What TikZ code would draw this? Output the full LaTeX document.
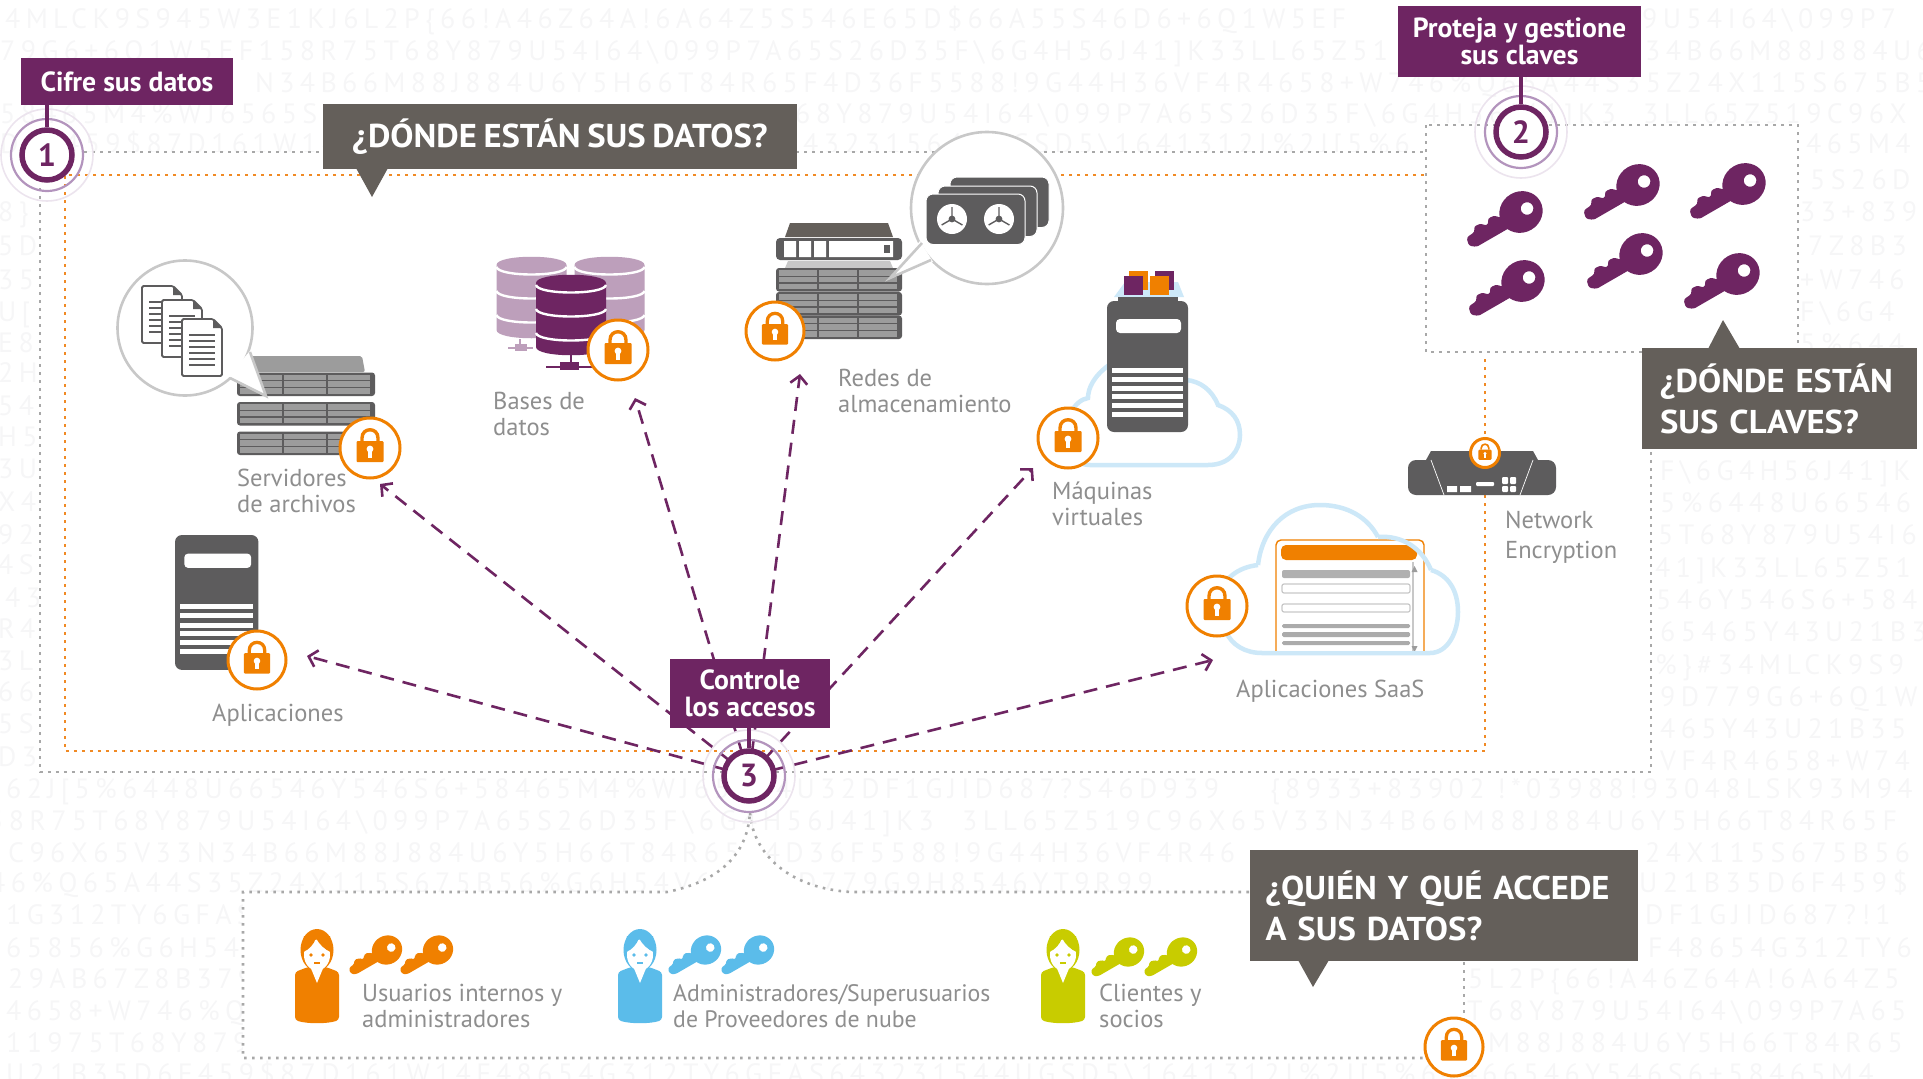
\documentclass[tikz,border=0pt]{standalone}
\usepackage{fontspec}
\setmainfont{PT Sans}
\newfontfamily\headfont[FakeStretch=1.05,WordSpace=0.75]{PT Sans}
\newfontfamily\tagfont{PT Sans}
\newfontfamily\bgfont[LetterSpace=19]{PT Sans}
\usetikzlibrary{arrows.meta,calc}

\definecolor{plum}{HTML}{6E2562}
\definecolor{plumlight}{HTML}{B394BD}
\definecolor{plumpale}{HTML}{ECE4EE}
\definecolor{slate}{HTML}{645F5A}
\definecolor{servdark}{HTML}{5D5C5D}
\definecolor{servlight}{HTML}{9C9C9C}
\definecolor{lockorange}{HTML}{F08000}
\definecolor{skyline}{HTML}{CDE8F8}
\definecolor{userblue}{HTML}{5BBCEA}
\definecolor{usergreen}{HTML}{C8CC00}
\definecolor{dbpale}{HTML}{BD9FBB}
\definecolor{dotgray}{HTML}{A8A8A8}
\definecolor{dotorange}{HTML}{F08A24}
\definecolor{labelgray}{HTML}{8E8E8E}
\definecolor{bggray}{HTML}{F6F6F7}
\definecolor{bubblegray}{HTML}{C8C8C8}

\tikzset{
  bgrow/.style={anchor=base west,inner sep=0pt,text=bggray,font=\bgfont\fontsize{28}{28}\selectfont},
  graydots/.style={draw=dotgray,line width=2.6pt,dash pattern=on 2.6pt off 5.4pt},
  orangedots/.style={draw=dotorange,line width=2.6pt,dash pattern=on 2.6pt off 5.4pt},
  infolabel/.style={anchor=north west,inner sep=0pt,align=left,text=labelgray,font=\fontsize{24.5}{26}\selectfont},
  tagbox/.style={fill=plum,text=white,inner sep=0pt,align=center,font=\tagfont\bfseries\fontsize{27.7}{26.5}\selectfont},
  tagstem/.style={draw=plum,line width=4pt},
  numdisc/.style={circle,draw=plum,fill=white,line width=5.5pt,minimum size=50pt,inner sep=0pt,text=plum,font=\tagfont\bfseries\fontsize{32}{32}\selectfont},
  calloutbox/.style={fill=slate,text=white,inner sep=0pt,font=\headfont\bfseries\fontsize{33}{41}\selectfont},
  accessline/.style={draw=plum,line width=2.6pt,dash pattern=on 14pt off 9pt,-{Straight Barb[length=8pt,width=17pt,line width=2.6pt]}},
  lockdisc/.style={circle,draw=lockorange,fill=white,inner sep=0pt},
  bubble/.style={circle,draw=bubblegray,fill=white,line width=2.6pt,inner sep=0pt},
  cloudline/.style={draw=skyline,line width=4.5pt},
}

\newcommand{\bs}{\textbackslash}

% numbered disc with its two rings
\newcommand{\stepdisc}[4]{
  \draw[plumpale,line width=1.6pt] (#2,#3) circle (46pt);
  \draw[plumlight,line width=2.2pt] (#2,#3) circle (36pt);
  \node[numdisc] (#1) at (#2,#3) {#4};
}

\newcommand{\lockbadge}[4]{
  \node[lockdisc,minimum size=2*#4pt,line width=3pt] (#1) at (#2,#3) {};
  \begin{scope}[shift={(#2,#3)},scale=#4/30]
    \fill[lockorange,rounded corners=1pt] (-13.5,-7) rectangle (13.5,14);
    \draw[lockorange,line width=3.4pt*#4/30] (-8,-7) -- (-8,-10) .. controls (-8,-21) and (8,-21) .. (8,-10) -- (8,-7);
    \fill[white] (0,1) circle (3.4);
    \fill[white] (-2,1) rectangle (2,9.5);
  \end{scope}
}

\newcommand{\keyicon}[4]{
  \begin{scope}[shift={(#1,#2)},rotate=30,scale=#3]
    \fill[#4,even odd rule] (0,0) ellipse (22 and 20.5) (7,0) circle (6.3);
    \fill[#4,rounded corners=2.4pt] (-6,8) -- (-56,8) -- (-62,3) -- (-60,-5) -- (-50,-6) -- (-48,-11) -- (-40,-10) -- (-38,-6) -- (-34,-6) -- (-32,-11) -- (-24,-10) -- (-22,-6) -- (-6,-6) -- cycle;
  \end{scope}
}

\newcommand{\persona}[2]{
  \begin{scope}[shift={(#1,930)}]
    \fill[#2,rounded corners=3pt] (-22,42) -- (-9,37) -- (9,37) -- (22,42) -- (22,90) .. controls (10,94) and (-10,94) .. (-22,90) -- cycle;
    \fill[#2] (0,20) ellipse (16.5 and 21);
    \fill[white] (0,25) ellipse (13 and 15.5);
    \fill[#2] (-14,22) .. controls (-8,20) and (-3,14) .. (-1,8) .. controls (2,14) and (8,20) .. (14,22) -- (13,6) -- (-13,6) -- cycle;
    \fill[white] (-7,36) -- (0,53) -- (7,36) -- cycle;
    \fill[#2] (-6,25) circle (1.9) (6,25) circle (1.9);
    \draw[#2,line width=1.2pt] (-3,33) -- (3,33);
  \end{scope}
}

% one unit of a rack: left, top, width
\newcommand{\rackunit}[3]{
  \fill[servdark,rounded corners=3pt] (#1,#2) rectangle ++(#3,23.5);
  \foreach \colnum in {0,1,2}
    \foreach \rownum in {0,1,2}
      \fill[servlight] ({#1+3+\colnum*(#3-6)/3},{#2+2.2+\rownum*6.7}) rectangle ++({(#3-6)/3-2},5.4);
}

\newcommand{\towerbox}[3]{
  \begin{scope}[shift={(#1,#2)},scale=#3]
    \fill[servdark,rounded corners=7pt] (0,0) rectangle (81,131);
    \fill[white,rounded corners=4pt] (9,18) rectangle (74,32);
    \foreach \liney in {67,76,85,93,102,111}
      \fill[white] (5,\liney) rectangle (76,\liney+5);
  \end{scope}
}

\newcommand{\dbcyl}[4]{
  \fill[#4] ({#1-35},{#2+8}) -- ({#1-35},{#3-8}) .. controls ({#1-35},{#3+3}) and ({#1+35},{#3+3}) .. ({#1+35},{#3-8}) -- ({#1+35},{#2+8}) .. controls ({#1+35},{#2-3}) and ({#1-35},{#2-3}) .. cycle;
  \foreach \bandy in {10,34,58}
    \draw[white,line width=2.4pt] ({#1-35},{#2+\bandy}) .. controls ({#1-33},{#2+\bandy+10}) and ({#1+33},{#2+\bandy+10}) .. ({#1+35},{#2+\bandy});
}

\newcommand{\docpage}[2]{
  \begin{scope}[shift={(#1,#2)}]
    \draw[fill=white,draw=servdark,line width=1.8pt,rounded corners=1.5pt] (0,0) -- (31,0) -- (40,9) -- (40,57) -- (0,57) -- cycle;
    \fill[servdark] (31,0) -- (40,9) -- (31,9) -- cycle;
    \foreach \liney in {16,22,28,34,40,46}
      \draw[servdark,line width=1.8pt] (7,\liney) -- (33,\liney);
  \end{scope}
}

\newcommand{\tapecard}[2]{
  \draw[fill=servdark,draw=white,line width=1pt,rounded corners=7pt] (#1,#2) rectangle ++(99,50.5);
}

\newcommand{\reel}[2]{
  \fill[white] (#1,#2) circle (15);
  \fill[servdark] (#1,#2) circle (3.4);
  \draw[servdark,line width=1.4pt] (#1,#2) -- ++(0,-12) (#1,#2) -- ++(10.4,6) (#1,#2) -- ++(-10.4,6);
}

\begin{document}
\begin{tikzpicture}[x=1pt,y=-1pt]
\useasboundingbox (0,0) rectangle (1923,1079);

% background characters
\foreach \bgx/\bgy/\bgtxt [count=\bgi] in {
  5/18/{4MLCK9S945W3E1KJ6L2P\{66!A46Z64A!6A64Z5S546E65D\$66A55S46D6+6Q1W5EF},
  1642/18/{9U54I64\bs099P7},
  0/50/{79G6+6Q1W5EF158R75T68Y879U54I64\bs099P7A65S26D35F\bs6G4H56J41]K33LL65Z51},
  1645/50/{34B66M88J884U6Y5},
  255/82/{N34B66M88J884U6Y5H66T84R65F4D36F5588!9G44H36VF4R4658+W746\%Q65A44S35Z24X115S675B56},
  0/113/{58465M4\%WJ6565S},
  795/113/{68Y879U54I64\bs099P7A65S26D35F\bs6G4H56J41]K3},
  1643/113/{3LL65Z519C96X},
  0/143/{D6F459\$87D161W14F48654G3},
  803/143/{432315644UGSD5\bs1641312I\%2J[5\%6},
  1806/143/{465M4},
  1810/179/{5S26D},1800/211/{33+839},1808/245/{7Z8B3},1800/279/{+W746},1800/311/{F\bs6G4},1800/343/{5\%644},
  1660/470/{F\bs6G4H56J41]K},1660/502/{5\%6448U66546},1658/534/{5T68Y879U54I6},1655/567/{41]K33LL65Z51},
  1656/599/{546Y546S6+584},1660/631/{65465Y43U21B3},1655/664/{\%\}\#34MLCK9S9},1660/696/{9D779G6+6Q1W},
  1660/728/{465Y43U21B35},1660/760/{VF4R4658+W74},
  -2/211/{8\}},-2/245/{5D},-2/279/{35},-2/311/{U[},-2/342/{E8},-2/372/{2H},-2/405/{54},-2/436/{H5},-2/468/{3U},
  -2/501/{X4},-2/534/{92},-2/564/{4S},5/597/{43},-2/628/{R4},-2/660/{3L},-2/691/{66},-2/723/{5S},-2/756/{D3},
  6/788/{62J[5\%6448U66546Y546S6+58465M4\%WJ65654U32DF1GJID687?S46D939},
  1270/788/{\{8933+83902},
  1497/788/{!*03988!93048LSK93M94},
  -12/820/{58R75T68Y879U54I64\bs099P7A65S26D35F\bs6G4H56J41]K3},
  962/820/{3LL65Z519C96X65V33N34B66M88J884U6Y5H66T84R65F},
  8/852/{C96X65V33N34B66M88J884U6Y5H66T84R65F4D36F5588!9G44H36VF4R46},
  1645/852/{24X115S675B56},
  -10/882/{46\%Q65A44S35Z24X115S675B56\%G6H54V6S659D779G9H8546YT9R99},
  1639/882/{U21B35D6F459\$},
  6/914/{1G312TY6GFAS},1645/914/{DF1GJID687?!1},
  6/947/{65856\%G6H54V},1648/947/{F48654G312TY6},
  8/978/{29AB67Z8B379},1468/978/{5L2P\{66!A46Z64A!6A64Z5},
  6/1010/{4658+W746\%Q6},1467/1010/{T68Y879U54I64\bs099P7A65},
  6/1042/{11975T68Y879},1488/1042/{M88J884U6Y5H66T84R65},
  6/1073/{U21B35D6F459\$87D161W14F48654G312TY6GFAS643231544UGSD5\bs1641312I\%2J[5\%644},
  1482/1073/{66546Y546S6+58465M4}%
}{
  \node[bgrow] (bgrow\bgi) at (\bgx,\bgy+10) {\bgtxt};
}

% white panels
\fill[white] (40,152) -- (1426,152) -- (1426,125) -- (1798,125) -- (1798,352) -- (1651,352) -- (1651,772) -- (40,772) -- cycle;
\fill[white] (243,892) -- (667,892) .. controls (725,880) and (748,850) .. (750,812) .. controls (752,850) and (785,888) .. (851,892) -- (1464,892) -- (1464,1058) -- (243,1058) -- cycle;

% dotted frames
\coordinate (outerNW) at (40,152);
\coordinate (outerSW) at (40,772);
\coordinate (outerSE) at (1651,772);
\coordinate (outerNE) at (1651,447);
\draw[graydots] (84,152) -- (1426,152);
\draw[graydots] (40,188) -- (outerSW) -- (outerSE) -- (outerNE);
\draw[graydots] (1426,125) rectangle (1798,352);
\coordinate (orangeNW) at (65,175);
\coordinate (orangeSW) at (65,751);
\coordinate (orangeSE) at (1485,751);
\coordinate (orangeKeys) at (1485,356);
\draw[orangedots] (1424,175) -- (orangeNW) -- (orangeSW) -- (orangeSE) -- (orangeKeys);
\draw[graydots] (1249,892) -- (851,892) .. controls (785,888) and (752,850) .. (750,812) .. controls (748,850) and (725,880) .. (667,892) -- (243,892) -- (243,1058) -- (1426,1058);
\draw[graydots] (1464,962) -- (1464,1020);

% file servers
\fill[servlight,rounded corners=2pt] (248,372) -- (251,356) -- (362,356) -- (365,372) -- cycle;
\rackunit{237}{372.5}{138}
\rackunit{237}{402}{138}
\rackunit{237}{431.5}{138}
\node[bubble,minimum size=135pt] (bubbleFiles) at (185,328) {};
\fill[white] (228,376) -- (266,396) -- (250,351) -- cycle;
\draw[bubblegray,line width=2.6pt] (230,378) -- (266,396) -- (250,352);
\docpage{142}{286}
\docpage{162}{300}
\docpage{182}{319}
\lockbadge{lockFiles}{370}{448}{30}

% databases
\dbcyl{531.5}{257}{338}{dbpale}
\dbcyl{609.5}{257}{338}{dbpale}
\draw[dbpale,line width=2pt] (508,348) -- (533,348) (520,339) -- (520,348);
\fill[dbpale] (515,344) rectangle (527,351);
\dbcyl{571}{275}{355}{plum}
\draw[plum,line width=2.4pt] (546,367) -- (592,367) (571,355) -- (571,367);
\fill[plum] (560,362) rectangle (579,370);
\lockbadge{lockBases}{618}{350}{30}

% storage network
\fill[slate] (785,237) -- (790,223) -- (888,223) -- (893,237) -- cycle;
\fill[servdark,rounded corners=4pt] (776,238) rectangle (902,260);
\fill[white] (784,241) rectangle (796,257) (799,241) rectangle (811,257) (814,241) rectangle (826,257) (829,241) rectangle (893,257);
\fill[servdark] (884,245) rectangle (890,253);
\fill[bubblegray] (785,268) -- (788,261) -- (890,261) -- (893,268) -- cycle;
\rackunit{776}{268}{126}
\rackunit{776}{292}{126}
\rackunit{776}{315.5}{126}
\node[bubble,minimum size=152pt] (bubbleTape) at (987,208) {};
\fill[white] (920,241) -- (890,278) -- (933,262) -- cycle;
\draw[bubblegray,line width=2.6pt] (922,243) -- (890,278) -- (931,260);
\tapecard{950}{177}
\tapecard{938}{186}
\tapecard{926}{194}
\reel{952}{219}
\reel{999}{219}
\lockbadge{lockRedes}{775}{331}{29}

% virtual machines
\draw[cloudline] (1109,365) .. controls (1094,376) and (1088,388) .. (1088,398) .. controls (1075,400) and (1060,420) .. (1072,450) .. controls (1074,458) and (1078,465) .. (1090,465) -- (1208,465) .. controls (1230,465) and (1240,450) .. (1240,435) .. controls (1240,420) and (1232,410) .. (1218,405) .. controls (1212,390) and (1200,381) .. (1186,380);
\fill[skyline] (1114,297) -- (1125,282) -- (1178,282) -- (1184,297) -- cycle;
\fill[lockorange] (1129,271) rectangle (1148,290);
\fill[plum] (1155,271) rectangle (1174,290);
\fill[plum] (1124,276) rectangle (1143,295);
\fill[lockorange] (1150,276) rectangle (1169,295);
\fill[servdark] (1118,297) rectangle (1178,303);
\towerbox{1107}{301}{1}
\lockbadge{lockVirtual}{1068}{438}{30}

% keys box
\keyicon{1521}{212}{1}{plum}
\keyicon{1638}{185}{1}{plum}
\keyicon{1744}{184}{1}{plum}
\keyicon{1523}{281}{1}{plum}
\keyicon{1641}{254}{1}{plum}
\keyicon{1738}{274}{1}{plum}

% network encryption device
\fill[servdark] (1426,460) -- (1431,451) -- (1533,451) -- (1538,460) -- cycle;
\fill[servdark,rounded corners=8pt] (1408,460) rectangle (1556,495);
\draw[white,line width=.7pt] (1431,460) -- (1444,495) (1533,460) -- (1520,495);
\fill[white] (1447,486) rectangle (1457,492) (1460,486) rectangle (1471,492);
\fill[white,rounded corners=1pt] (1476,482) rectangle (1494,486);
\fill[white,rounded corners=1pt] (1502,477) rectangle (1508,484) (1510,477) rectangle (1516,484) (1502,486) rectangle (1508,492) (1510,486) rectangle (1516,492);
\lockbadge{lockNetwork}{1485}{453}{14.5}

% application server
\towerbox{175}{535}{1.03}
\lockbadge{lockApps}{257}{660}{29}

% SaaS
\draw[cloudline] (1262,653) -- (1430,653) .. controls (1448,653) and (1458,632) .. (1458,612) .. controls (1458,590) and (1448,575) .. (1431,570);
\draw[cloudline] (1262,653) .. controls (1245,653) and (1232,645) .. (1226,632) .. controls (1210,612) and (1215,570) .. (1258,565);
\draw[cloudline] (1258,565) .. controls (1262,530) and (1285,505) .. (1320,505) .. controls (1348,505) and (1368,518) .. (1378,537);
\draw[draw=lockorange,fill=white,line width=1.4pt,rounded corners=5pt] (1276,653) -- (1276,540) -- (1424,540) -- (1424,653);
\fill[lockorange,rounded corners=5pt] (1281,545) rectangle (1417,560);
\draw[bubblegray,line width=1.4pt] (1413,562) -- (1413,653);
\fill[servlight] (1414.5,566) -- (1417.5,572) -- (1411.5,572) -- cycle (1414.5,652) -- (1417.5,646) -- (1411.5,646) -- cycle;
\fill[servlight!80,rounded corners=2pt] (1282,570) rectangle (1410,578);
\draw[bubblegray,fill=white,line width=1.2pt,rounded corners=2pt] (1282,584) rectangle (1410,593);
\draw[bubblegray,fill=white,line width=1.2pt,rounded corners=2pt] (1282,604) rectangle (1410,612);
\fill[servlight!85,rounded corners=1.5pt] (1282,624) rectangle (1410,628) (1282,632) rectangle (1410,637) (1282,641) rectangle (1410,645);
\draw[cloudline] (1262,653) -- (1430,653);
\draw[cloudline] (1378,537) .. controls (1402,535) and (1422,548) .. (1431,570);
\lockbadge{lockSaas}{1217}{606}{30}

% people
\persona{317}{lockorange}
\keyicon{387}{950}{.7}{lockorange}
\keyicon{438}{950}{.7}{lockorange}
\persona{640}{userblue}
\keyicon{706}{950}{.7}{userblue}
\keyicon{759}{950}{.7}{userblue}
\persona{1063}{usergreen}
\keyicon{1129}{952}{.7}{usergreen}
\keyicon{1182}{952}{.7}{usergreen}
\lockbadge{lockUsers}{1454}{1047}{29}

% labels
\node[infolabel] (labFiles) at (237,469) {Servidores\\de archivos};
\node[infolabel] (labBases) at (493,392) {Bases de\\datos};
\node[infolabel] (labRedes) at (838,369) {Redes de\\almacenamiento};
\node[infolabel] (labVirtual) at (1052,482) {Máquinas\\virtuales};
\node[infolabel] (labApps) at (212,704) {Aplicaciones};
\node[infolabel] (labSaas) at (1236,680) {Aplicaciones SaaS};
\node[infolabel,font=\fontsize{24.5}{30}\selectfont] (labNetwork) at (1505,511) {Network\\Encryption};
\node[infolabel] (labUsers) at (362,984) {Usuarios internos y\\administradores};
\node[infolabel,font=\fontsize{23.8}{26}\selectfont] (labAdmins) at (673,984) {Administradores/Superusuarios\\de Proveedores de nube};
\node[infolabel] (labClients) at (1099,984) {Clientes y\\socios};

% access lines
\coordinate (tipApps) at (307,656);
\coordinate (tipFiles) at (380,484);
\coordinate (tipBases) at (635,398);
\coordinate (tipRedes) at (800,374);
\coordinate (tipVirtual) at (1033,468);
\coordinate (tipSaas) at (1213,660);
\coordinate (hubC) at (749,776);
\draw[accessline] (hubC) -- (tipApps);
\draw[accessline] (hubC) -- (tipFiles);
\draw[accessline] (hubC) -- (tipBases);
\draw[accessline] (hubC) -- (tipRedes);
\draw[accessline] (hubC) -- (tipVirtual);
\draw[accessline] (hubC) -- (tipSaas);

% steps and their tags
\stepdisc{stepA}{47}{155}{1}
\stepdisc{stepB}{1521}{132}{2}
\stepdisc{stepC}{749}{776}{3}
\node[tagbox,minimum width=212pt,minimum height=47pt] (tagA) at (127,81.5) {Cifre sus datos};
\node[tagbox,minimum width=243pt,minimum height=71pt] (tagB) at (1519.5,41.5) {Proteja y gestione\\sus claves};
\node[tagbox,minimum width=160pt,minimum height=69pt] (tagC) at (750,693.5) {Controle\\los accesos};
\draw[tagstem] (stepA |- tagA.south) -- (stepA.north);
\draw[tagstem] (stepB |- tagB.south) -- (stepB.north);
\draw[tagstem] (stepC |- tagC.south) -- (stepC.north);

% callouts
\fill[slate] (356,168) -- (372,197) -- (388,168) -- cycle;
\node[calloutbox,minimum width=474pt,minimum height=65pt] (askData) at (560,136.5) {¿DÓNDE ESTÁN SUS DATOS?};
\fill[slate] (1708,349) -- (1723,320) -- (1740,349) -- cycle;
\node[calloutbox,minimum height=101pt,text width=239pt,align=left,inner xsep=18pt] (askKeys) at (1779.5,398.5) {¿DÓNDE ESTÁN\\SUS CLAVES?};
\fill[slate] (1298,960) -- (1313,987) -- (1329,960) -- cycle;
\node[calloutbox,minimum height=111pt,text width=356pt,align=left,inner xsep=16pt] (askWho) at (1443.5,905.5) {¿QUIÉN Y QUÉ ACCEDE\\A SUS DATOS?};
\end{tikzpicture}
\end{document}
